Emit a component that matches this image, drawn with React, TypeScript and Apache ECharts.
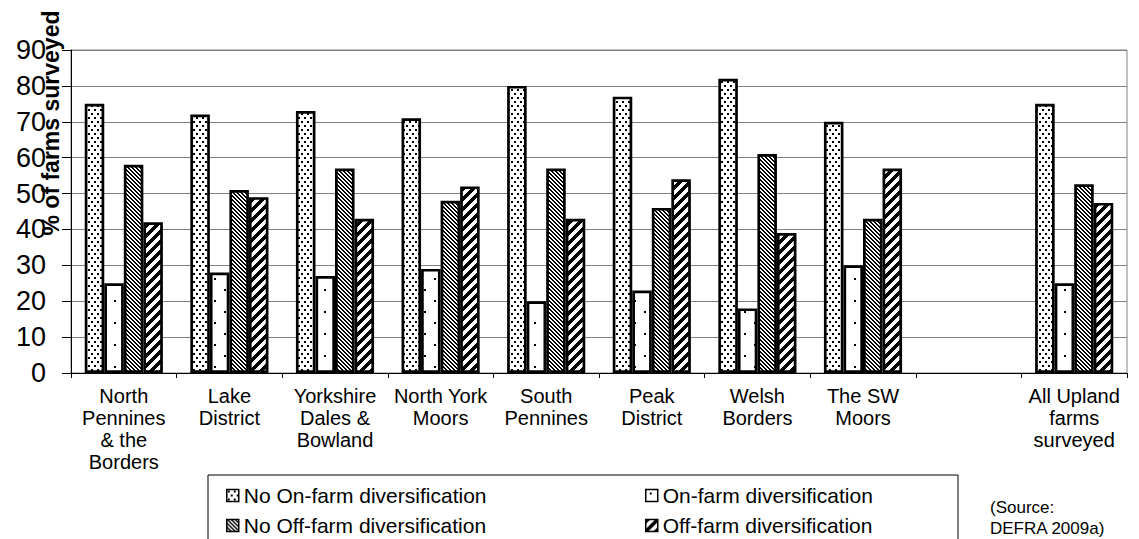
import React, { useEffect, useRef } from 'react';
import * as echarts from 'echarts';

const categories = [
  'North\nPennines\n& the\nBorders',
  'Lake\nDistrict',
  'Yorkshire\nDales &\nBowland',
  'North York\nMoors',
  'South\nPennines',
  'Peak\nDistrict',
  'Welsh\nBorders',
  'The SW\nMoors',
  '',
  'All Upland\nfarms\nsurveyed',
];
const seriesNames = [
  'No On-farm diversification',
  'On-farm diversification',
  'No Off-farm diversification',
  'Off-farm diversification',
];
const noOnFarm = [75, 72, 73, 71, 80, 77, 82, 70, null, 75];
const onFarm = [25, 28, 27, 29, 20, 23, 18, 30, null, 25];
const noOffFarm = [58, 51, 57, 48, 57, 46, 61, 43, null, 52.6];
const offFarm = [42, 49, 43, 52, 43, 54, 39, 57, null, 47.4];
const yMin = 0;
const yMax = 90;
const yInterval = 10;
const yTitle = '% of farms surveyed';
const sourceText = '(Source:\nDEFRA 2009a)';

const FONT = 'Arial, "Liberation Sans", sans-serif';

function makeTile(w: number, h: number, draw: (ctx: CanvasRenderingContext2D) => void) {
  const c = document.createElement('canvas');
  c.width = w;
  c.height = h;
  const ctx = c.getContext('2d')!;
  ctx.fillStyle = '#ffffff';
  ctx.fillRect(0, 0, w, h);
  ctx.fillStyle = '#000000';
  draw(ctx);
  return { image: c, repeat: 'repeat', imageWidth: w, imageHeight: h } as any;
}

export default function App() {
  const ref = useRef<HTMLDivElement>(null);
  useEffect(() => {
    document.body.style.margin = '0';
    const chart = echarts.init(ref.current!, null, { renderer: 'svg' });

    const denseDots = makeTile(6, 8, (ctx) => {
      ctx.fillRect(1, 1, 2, 2);
      ctx.fillRect(4, 5, 2, 2);
    });
    const sparseDots = makeTile(20, 22, (ctx) => {
      ctx.fillRect(4, 3, 2, 2);
      ctx.fillRect(14, 14, 2, 2);
    });
    const thinHatch = makeTile(4, 4, (ctx) => {
      for (let i = 0; i < 4; i++) {
        ctx.fillRect(i, i, 1, 1);
        ctx.fillRect((i + 1) % 4, i, 1, 1);
      }
    });
    const thickHatch = makeTile(10, 10, (ctx) => {
      for (let y = 0; y < 10; y++) {
        for (let k = 0; k < 5; k++) {
          const x = (9 - y + k + 10) % 10;
          ctx.fillRect(x, y, 1, 1);
        }
      }
    });
    const fills = [denseDots, sparseDots, thinHatch, thickHatch];
    const datas = [noOnFarm, onFarm, noOffFarm, offFarm];

    const legendPos = [
      { left: 226, top: 485 },
      { left: 645, top: 485 },
      { left: 226, top: 515 },
      { left: 645, top: 515 },
    ];

    chart.setOption({
      animation: false,
      grid: {
        left: 71,
        top: 50,
        right: 12,
        bottom: 166,
        show: true,
        borderColor: '#808080',
        borderWidth: 1,
        backgroundColor: 'transparent',
      },
      legend: seriesNames.map((n, i) => ({
        data: [n],
        left: legendPos[i].left,
        top: legendPos[i].top,
        padding: 0,
        itemWidth: 12,
        itemHeight: 12,
        icon: 'rect',
        selectedMode: false,
        itemStyle: { borderColor: '#000', borderWidth: 1.5 },
        textStyle: { fontFamily: FONT, fontSize: 21, color: '#000' },
      })),
      xAxis: {
        type: 'category',
        data: categories,
        axisLine: { lineStyle: { color: '#000', width: 1 } },
        axisTick: { show: true, interval: 0, length: 5, lineStyle: { color: '#000' } },
        axisLabel: {
          interval: 0,
          fontFamily: FONT,
          fontSize: 20,
          lineHeight: 22,
          color: '#000',
          margin: 12,
        },
        splitLine: { show: false },
      },
      yAxis: {
        type: 'value',
        min: yMin,
        max: yMax,
        interval: yInterval,
        axisLine: { show: true, lineStyle: { color: '#000', width: 1 } },
        axisTick: { show: true, length: 9, lineStyle: { color: '#000' } },
        axisLabel: { fontFamily: FONT, fontSize: 27, color: '#000', margin: 25 },
        splitLine: { show: true, lineStyle: { color: '#808080', width: 1 } },
      },
      series: seriesNames.map((n, i) => ({
        name: n,
        type: 'bar',
        data: datas[i],
        barGap: '0%',
        barCategoryGap: '26%',
        silent: true,
        itemStyle: { color: fills[i], borderColor: '#000', borderWidth: 2.7 },
        emphasis: { disabled: true },
      })),
      graphic: [
        {
          type: 'rect',
          shape: { x: 208, y: 475, width: 750, height: 90 },
          style: { fill: 'none', stroke: '#000', lineWidth: 1 },
          z: -1,
        },
        {
          type: 'text',
          x: 51,
          y: 123,
          rotation: Math.PI / 2,
          style: {
            text: yTitle,
            font: 'bold 23px ' + FONT,
            fill: '#000',
            align: 'center',
            verticalAlign: 'middle',
          },
        },
        {
          type: 'text',
          x: 990,
          y: 497,
          style: {
            text: sourceText,
            font: '17px ' + FONT,
            lineHeight: 21,
            fill: '#000',
            align: 'left',
            verticalAlign: 'top',
          },
        },
      ],
    });
    return () => chart.dispose();
  }, []);
  return <div ref={ref} style={{ width: 1139, height: 539 }} />;
}
